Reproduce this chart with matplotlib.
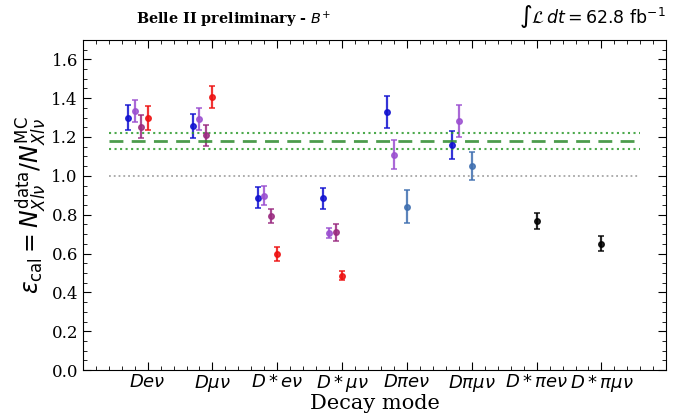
import numpy as np
import matplotlib
matplotlib.use("Agg")
import matplotlib.pyplot as plt
from matplotlib.ticker import MultipleLocator

# Decay modes (x categories)
modes = [r"$De\nu$", r"$D\mu\nu$", r"$D*e\nu$", r"$D*\mu\nu$",
         r"$D\pi e\nu$", r"$D\pi\mu\nu$", r"$D*\pi e\nu$", r"$D*\pi\mu\nu$"]

# per-series values
blue_idx = [0, 1, 2, 3, 4, 5]
blue_val = [1.30, 1.255, 0.888, 0.884, 1.327, 1.16]
blue_err = [0.065, 0.062, 0.054, 0.055, 0.083, 0.073]

violet_idx = [0, 1, 2, 3, 4, 5]
violet_val = [1.333, 1.293, 0.898, 0.705, 1.109, 1.282]
violet_err = [0.058, 0.058, 0.050, 0.026, 0.075, 0.083]

purple_idx = [0, 1, 2, 3]
purple_val = [1.254, 1.208, 0.794, 0.709]
purple_err = [0.060, 0.056, 0.038, 0.042]

red_idx = [0, 1, 2, 3]
red_val = [1.297, 1.407, 0.598, 0.486]
red_err = [0.060, 0.057, 0.034, 0.024]

steel_idx = [4, 5]
steel_val = [0.842, 1.052]
steel_err = [0.085, 0.071]

black_idx = [6, 7]
black_val = [0.770, 0.650]
black_err = [0.041, 0.038]

avg_val = 1.179
avg_band = [1.14, 1.22]

fig = plt.figure(figsize=(6.73, 4.15), dpi=100)
ax = fig.add_axes([0.123, 0.108, 0.867, 0.796])

series = [
    (blue_idx, blue_val, blue_err, -0.3, "#1010d0"),
    (violet_idx, violet_val, violet_err, -0.2, "#9b4fd0"),
    (purple_idx, purple_val, purple_err, -0.1, "#9a2a80"),
    (red_idx, red_val, red_err, 0.0, "#ee1010"),
    (steel_idx, steel_val, steel_err, 0.0, "#3f6fb0"),
    (black_idx, black_val, black_err, 0.0, "black"),
]
for idx, val, err, off, col in series:
    x = np.array(idx) + off
    ax.errorbar(x, val, yerr=err, fmt="o", color=col, ms=4, elinewidth=1.6,
                capsize=2.5, capthick=1.2, alpha=0.85)

ax.hlines(avg_val, -0.6, 7.6, colors="#2e8b2e", linestyles=(0, (5, 3)), lw=2.0, alpha=0.85)
ax.hlines(avg_band, -0.6, 7.6, colors="#2e9b2e", linestyles=":", lw=1.5, alpha=0.85)
ax.hlines(1.0, -0.6, 7.6, colors="gray", linestyles=":", lw=1.3, alpha=0.7)

ax.set_xlim(-1, 8)
ax.set_ylim(0, 1.7)
ax.set_xticks(range(len(modes)))
ax.set_xticklabels(modes, fontsize=13)
ax.xaxis.set_minor_locator(MultipleLocator(0.2))
ax.yaxis.set_major_locator(MultipleLocator(0.2))
ax.yaxis.set_minor_locator(MultipleLocator(0.05))
ax.tick_params(which="both", direction="in", top=True, right=True)
ax.tick_params(which="major", length=6)
ax.tick_params(which="minor", length=3)
ax.tick_params(axis="x", pad=2)
for lab in ax.get_yticklabels():
    lab.set_family("DejaVu Serif")
    lab.set_fontsize(12)

ax.set_xlabel("Decay mode", family="DejaVu Serif", fontsize=15, labelpad=0)
ax.set_ylabel(r"$\epsilon_{\rm cal} = N^{\rm data}_{Xl\nu}/N^{\rm MC}_{Xl\nu}$", fontsize=17, labelpad=2)

fig.text(0.202, 0.942, r"Belle II preliminary - $B^{+}$", family="DejaVu Serif",
         fontweight="bold", fontsize=10.4)
fig.text(0.99, 0.945, r"$\int\mathcal{L}\,dt = 62.8\ \mathrm{fb}^{-1}$", ha="right", fontsize=12.5)

fig.savefig("out.png", dpi=100)
